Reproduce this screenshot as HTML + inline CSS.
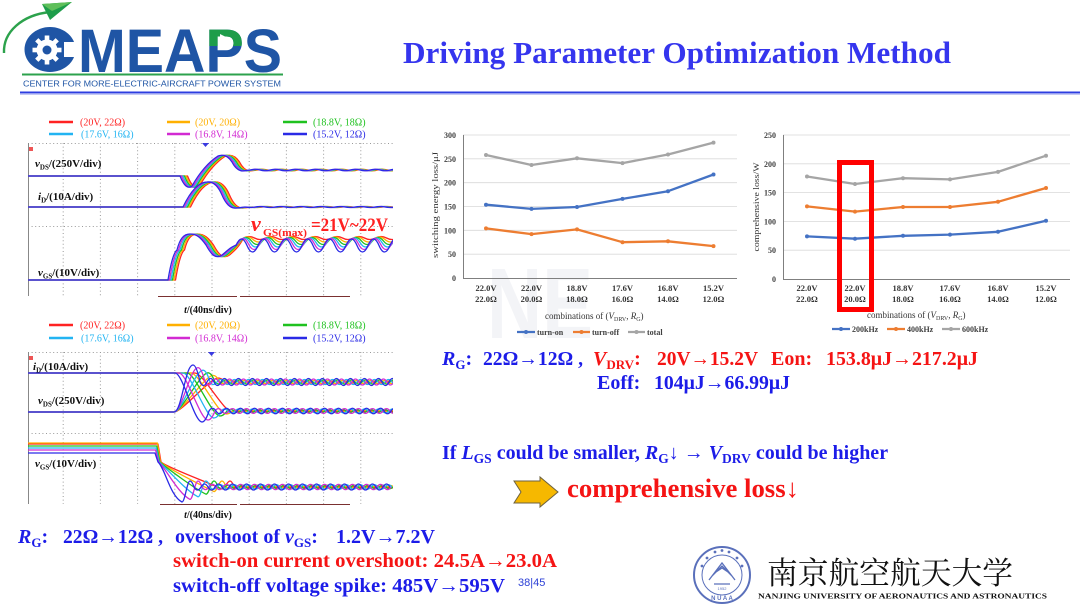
<!DOCTYPE html>
<html><head><meta charset="utf-8">
<style>
html,body{margin:0;padding:0;background:#fff;width:1080px;height:607px;overflow:hidden}
svg{display:block}
text{font-family:"Liberation Serif","Noto Serif CJK SC",serif}
.b{font-weight:bold}
</style></head>
<body>
<svg width="1080" height="607" viewBox="0 0 1080 607" xmlns="http://www.w3.org/2000/svg">
<defs>
<clipPath id="c1"><rect x="28" y="143" width="365" height="153"/></clipPath>
<clipPath id="c2"><rect x="28" y="352" width="365" height="152"/></clipPath>
<clipPath id="pc"><rect x="203" y="25" width="44" height="21"/></clipPath>
</defs>
<rect width="1080" height="607" fill="#fff"/>

<!-- ===== LOGO ===== -->
<path d="M4,53 C3,32 22,15 50,12" stroke="#2ca24c" stroke-width="2.4" fill="none"/>
<polygon points="42,4 72,2 50,20" fill="#1e9d4a"/>
<polygon points="42,4 72,2 52,11" fill="#5fbf5a"/>
<ellipse cx="50" cy="49.5" rx="25.5" ry="22.5" fill="#1f55a5"/>
<rect x="64" y="42" width="16" height="15" fill="#fff"/>
<g transform="translate(47,50)" fill="#fff">
<circle r="10.5"/>
<rect x="-2.3" y="-14.5" width="4.6" height="6"/>
<rect x="-2.3" y="-14.5" width="4.6" height="6" transform="rotate(45)"/>
<rect x="-2.3" y="-14.5" width="4.6" height="6" transform="rotate(90)"/>
<rect x="-2.3" y="-14.5" width="4.6" height="6" transform="rotate(135)"/>
<rect x="-2.3" y="-14.5" width="4.6" height="6" transform="rotate(180)"/>
<rect x="-2.3" y="-14.5" width="4.6" height="6" transform="rotate(225)"/>
<rect x="-2.3" y="-14.5" width="4.6" height="6" transform="rotate(270)"/>
<rect x="-2.3" y="-14.5" width="4.6" height="6" transform="rotate(315)"/>
<circle r="4.5" fill="#1f55a5"/>
</g>
<text x="78" y="72" font-weight="bold" font-size="61" textLength="204" lengthAdjust="spacingAndGlyphs" fill="#1f55a5" style="font-family:'Liberation Sans',sans-serif">MEAPS</text>
<text x="78" y="72" font-weight="bold" font-size="61" textLength="204" lengthAdjust="spacingAndGlyphs" fill="#1e9d4a" clip-path="url(#pc)" style="font-family:'Liberation Sans',sans-serif">MEAPS</text>
<polygon points="220,34 220,47 233,40.5" fill="#fff"/>
<line x1="22" y1="74.5" x2="283" y2="74.5" stroke="#2ca24c" stroke-width="2"/>
<text x="23" y="86.5" font-size="8.6" textLength="258" lengthAdjust="spacingAndGlyphs" fill="#1f55a5" style="font-family:'Liberation Sans',sans-serif">CENTER FOR  MORE-ELECTRIC-AIRCRAFT POWER SYSTEM</text>

<line x1="20" y1="92.5" x2="1080" y2="92.5" stroke="#2d3de0" stroke-width="2"/>
<line x1="20" y1="94.5" x2="1080" y2="94.5" stroke="#c5c9f3" stroke-width="1"/>

<text x="403" y="63" class="b" font-size="31" textLength="548" lengthAdjust="spacingAndGlyphs" fill="#3535ee">Driving Parameter Optimization Method</text>

<!-- ===== TOP SCOPE ===== -->
<g stroke-width="2.5">
<line x1="49" y1="122" x2="73" y2="122" stroke="#ff2222"/>
<line x1="167" y1="122" x2="190" y2="122" stroke="#ffb000"/>
<line x1="283" y1="122" x2="307" y2="122" stroke="#1fc21f"/>
<line x1="49" y1="134" x2="73" y2="134" stroke="#22b4f2"/>
<line x1="167" y1="134" x2="190" y2="134" stroke="#d22ad2"/>
<line x1="283" y1="134" x2="307" y2="134" stroke="#2a2ae6"/>
</g>
<g font-size="10">
<text x="80" y="125.5" fill="#ff2222">(20V, 22Ω)</text>
<text x="195" y="125.5" fill="#ffb000">(20V, 20Ω)</text>
<text x="313" y="125.5" fill="#1fc21f">(18.8V, 18Ω)</text>
<text x="81" y="137.5" fill="#22b4f2">(17.6V, 16Ω)</text>
<text x="195" y="137.5" fill="#d22ad2">(16.8V, 14Ω)</text>
<text x="313" y="137.5" fill="#2a2ae6">(15.2V, 12Ω)</text>
</g>
<g stroke="#9a9a9a" stroke-width="1" stroke-dasharray="1 2.6" fill="none">
<line x1="28" y1="143.5" x2="393" y2="143.5"/>
<line x1="28" y1="226.5" x2="393" y2="226.5"/>
<line x1="63.2" y1="143" x2="63.2" y2="296"/>
<line x1="100.4" y1="143" x2="100.4" y2="296"/>
<line x1="137.6" y1="143" x2="137.6" y2="296"/>
<line x1="174.8" y1="143" x2="174.8" y2="296"/>
<line x1="212" y1="143" x2="212" y2="296"/>
<line x1="249.2" y1="143" x2="249.2" y2="296"/>
<line x1="286.4" y1="143" x2="286.4" y2="296"/>
<line x1="323.6" y1="143" x2="323.6" y2="296"/>
<line x1="360.8" y1="143" x2="360.8" y2="296"/>
</g>
<line x1="28.5" y1="143" x2="28.5" y2="296" stroke="#888" stroke-width="1"/>
<rect x="29" y="147" width="4" height="4" fill="#e55"/>
<polygon points="202,143 209,143 205.5,147" fill="#3a3ae0"/>
<g clip-path="url(#c1)" fill="none" stroke-width="1.3" stroke-linejoin="round">
<g transform="translate(7.5,0)" stroke="#ff2222">
<path d="M0,176 L180,176 Q186,191 192,186 Q204,165 218,156 Q226,153 232,162 Q236,170 242,171 L250,170 q5,-1.5 10,0 t10,0 t10,0 t10,0 t10,0 t10,0 t10,0 t10,0 t10,0 t10,0 t10,0 t10,0 t10,0 t10,0 t10,0 t10,0 t10,0"/>
<path d="M0,207 L183,207 Q195,182 207,182 Q216,181 222,195 Q228,209 236,208 L245,207 q5,1 10,0 t10,0 t10,0 t10,0 t10,0 t10,0 t10,0 t10,0 t10,0 t10,0 t10,0 t10,0 t10,0 t10,0 t10,0 t10,0"/>
<path d="M0,280 L168,280 C171,262 174,252 177,250 C180,238 184,234 190,234 C197,234 201,238 206,245 C212,256 216,259 222,255 C228,250 232,246 236,238 q5.5,-3 11,0 t11,0 t11,0 t11,0 t11,0 t11,0 t11,0 t11,0 t11,0 t11,0 t11,0 t11,0 t11,0 t11,0 t11,0"/>
</g>
<g transform="translate(6,0)" stroke="#ffb000">
<path d="M0,176 L180,176 Q186,191 192,186 Q204,165 218,156 Q226,153 232,162 Q236,170 242,171 L250,170 q5,-1.5 10,0 t10,0 t10,0 t10,0 t10,0 t10,0 t10,0 t10,0 t10,0 t10,0 t10,0 t10,0 t10,0 t10,0 t10,0 t10,0 t10,0"/>
<path d="M0,207 L183,207 Q195,182 207,182 Q216,181 222,195 Q228,209 236,208 L245,207 q5,1 10,0 t10,0 t10,0 t10,0 t10,0 t10,0 t10,0 t10,0 t10,0 t10,0 t10,0 t10,0 t10,0 t10,0 t10,0 t10,0"/>
<path d="M0,280 L168,280 C171,262 174,252 177,250 C180,238 184,234 190,234 C197,234 201,238 206,245 C212,256 216,259 222,255 C228,250 232,246 236,239.5 q5.5,-5 11,0 t11,0 t11,0 t11,0 t11,0 t11,0 t11,0 t11,0 t11,0 t11,0 t11,0 t11,0 t11,0 t11,0 t11,0"/>
</g>
<g transform="translate(4.5,0)" stroke="#1fc21f">
<path d="M0,176 L180,176 Q186,191 192,186 Q204,165 218,156 Q226,153 232,162 Q236,170 242,171 L250,170 q5,-1.5 10,0 t10,0 t10,0 t10,0 t10,0 t10,0 t10,0 t10,0 t10,0 t10,0 t10,0 t10,0 t10,0 t10,0 t10,0 t10,0 t10,0"/>
<path d="M0,207 L183,207 Q195,182 207,182 Q216,181 222,195 Q228,209 236,208 L245,207 q5,1 10,0 t10,0 t10,0 t10,0 t10,0 t10,0 t10,0 t10,0 t10,0 t10,0 t10,0 t10,0 t10,0 t10,0 t10,0 t10,0"/>
<path d="M0,280 L168,280 C171,262 174,252 177,250 C180,238 184,234 190,234 C197,234 201,238 206,245 C212,256 216,259 222,255 C228,250 232,246 236,241 q5.5,-7 11,0 t11,0 t11,0 t11,0 t11,0 t11,0 t11,0 t11,0 t11,0 t11,0 t11,0 t11,0 t11,0 t11,0 t11,0"/>
</g>
<g transform="translate(3,0)" stroke="#22b4f2">
<path d="M0,176 L180,176 Q186,191 192,186 Q204,165 218,156 Q226,153 232,162 Q236,170 242,171 L250,170 q5,-1.5 10,0 t10,0 t10,0 t10,0 t10,0 t10,0 t10,0 t10,0 t10,0 t10,0 t10,0 t10,0 t10,0 t10,0 t10,0 t10,0 t10,0"/>
<path d="M0,207 L183,207 Q195,182 207,182 Q216,181 222,195 Q228,209 236,208 L245,207 q5,1 10,0 t10,0 t10,0 t10,0 t10,0 t10,0 t10,0 t10,0 t10,0 t10,0 t10,0 t10,0 t10,0 t10,0 t10,0 t10,0"/>
<path d="M0,280 L168,280 C171,262 174,252 177,250 C180,238 184,234 190,234 C197,234 201,238 206,245 C212,256 216,259 222,255 C228,250 232,246 236,242.5 q5.5,-9 11,0 t11,0 t11,0 t11,0 t11,0 t11,0 t11,0 t11,0 t11,0 t11,0 t11,0 t11,0 t11,0 t11,0 t11,0"/>
</g>
<g transform="translate(1.5,0)" stroke="#d22ad2">
<path d="M0,176 L180,176 Q186,191 192,186 Q204,165 218,156 Q226,153 232,162 Q236,170 242,171 L250,170 q5,-1.5 10,0 t10,0 t10,0 t10,0 t10,0 t10,0 t10,0 t10,0 t10,0 t10,0 t10,0 t10,0 t10,0 t10,0 t10,0 t10,0 t10,0"/>
<path d="M0,207 L183,207 Q195,182 207,182 Q216,181 222,195 Q228,209 236,208 L245,207 q5,1 10,0 t10,0 t10,0 t10,0 t10,0 t10,0 t10,0 t10,0 t10,0 t10,0 t10,0 t10,0 t10,0 t10,0 t10,0 t10,0"/>
<path d="M0,280 L168,280 C171,262 174,252 177,250 C180,238 184,234 190,234 C197,234 201,238 206,245 C212,256 216,259 222,255 C228,250 232,246 236,244 q5.5,-11 11,0 t11,0 t11,0 t11,0 t11,0 t11,0 t11,0 t11,0 t11,0 t11,0 t11,0 t11,0 t11,0 t11,0 t11,0"/>
</g>
<g stroke="#2a2ae6">
<path d="M0,176 L180,176 Q186,191 192,186 Q204,165 218,156 Q226,153 232,162 Q236,170 242,171 L250,170 q5,-1.5 10,0 t10,0 t10,0 t10,0 t10,0 t10,0 t10,0 t10,0 t10,0 t10,0 t10,0 t10,0 t10,0 t10,0 t10,0 t10,0 t10,0"/>
<path d="M0,207 L183,207 Q195,182 207,182 Q216,181 222,195 Q228,209 236,208 L245,207 q5,1 10,0 t10,0 t10,0 t10,0 t10,0 t10,0 t10,0 t10,0 t10,0 t10,0 t10,0 t10,0 t10,0 t10,0 t10,0 t10,0"/>
<path d="M0,280 L168,280 C171,262 174,252 177,250 C180,238 184,234 190,234 C197,234 201,238 206,245 C212,256 216,259 222,255 C228,250 232,246 236,245.5 q5.5,-13 11,0 t11,0 t11,0 t11,0 t11,0 t11,0 t11,0 t11,0 t11,0 t11,0 t11,0 t11,0 t11,0 t11,0 t11,0"/>
</g>
</g>
<g class="b" font-size="11" fill="#111">
<text x="35" y="167"><tspan font-style="italic">v</tspan><tspan font-size="7" dy="2.5">DS</tspan><tspan dy="-2.5">/(250V/div)</tspan></text>
<text x="38" y="200"><tspan font-style="italic">i</tspan><tspan font-size="7" dy="2.5">D</tspan><tspan dy="-2.5">/(10A/div)</tspan></text>
<text x="38" y="276"><tspan font-style="italic">v</tspan><tspan font-size="7" dy="2.5">GS</tspan><tspan dy="-2.5">/(10V/div)</tspan></text>
</g>
<g class="b" fill="#ff2020">
<text x="251" y="231" font-size="22" font-style="italic">v</text>
<text x="263" y="236" font-size="11" textLength="44" lengthAdjust="spacingAndGlyphs">GS(max)</text>
<text x="311" y="231" font-size="19" textLength="77" lengthAdjust="spacingAndGlyphs">=21V~22V</text>
</g>
<g stroke="#7a3030" stroke-width="1">
<line x1="158" y1="296.5" x2="237" y2="296.5"/>
<line x1="240" y1="296.5" x2="350" y2="296.5"/>
</g>
<text x="208" y="313" class="b" font-size="10" text-anchor="middle" fill="#111"><tspan font-style="italic">t</tspan>/(40ns/div)</text>

<!-- ===== BOTTOM SCOPE ===== -->
<g stroke-width="2.5">
<line x1="49" y1="325" x2="73" y2="325" stroke="#ff2222"/>
<line x1="167" y1="325" x2="190" y2="325" stroke="#ffb000"/>
<line x1="283" y1="325" x2="307" y2="325" stroke="#1fc21f"/>
<line x1="49" y1="338" x2="73" y2="338" stroke="#22b4f2"/>
<line x1="167" y1="338" x2="190" y2="338" stroke="#d22ad2"/>
<line x1="283" y1="338" x2="307" y2="338" stroke="#2a2ae6"/>
</g>
<g font-size="10">
<text x="80" y="328.5" fill="#ff2222">(20V, 22Ω)</text>
<text x="195" y="328.5" fill="#ffb000">(20V, 20Ω)</text>
<text x="313" y="328.5" fill="#1fc21f">(18.8V, 18Ω)</text>
<text x="81" y="341.5" fill="#22b4f2">(17.6V, 16Ω)</text>
<text x="195" y="341.5" fill="#d22ad2">(16.8V, 14Ω)</text>
<text x="313" y="341.5" fill="#2a2ae6">(15.2V, 12Ω)</text>
</g>
<g stroke="#9a9a9a" stroke-width="1" stroke-dasharray="1 2.6" fill="none">
<line x1="28" y1="352.5" x2="393" y2="352.5"/>
<line x1="28" y1="433.5" x2="393" y2="433.5"/>
<line x1="63.2" y1="352" x2="63.2" y2="504"/>
<line x1="100.4" y1="352" x2="100.4" y2="504"/>
<line x1="137.6" y1="352" x2="137.6" y2="504"/>
<line x1="174.8" y1="352" x2="174.8" y2="504"/>
<line x1="212" y1="352" x2="212" y2="504"/>
<line x1="249.2" y1="352" x2="249.2" y2="504"/>
<line x1="286.4" y1="352" x2="286.4" y2="504"/>
<line x1="323.6" y1="352" x2="323.6" y2="504"/>
<line x1="360.8" y1="352" x2="360.8" y2="504"/>
</g>
<line x1="28.5" y1="352" x2="28.5" y2="504" stroke="#888" stroke-width="1"/>
<rect x="29" y="356" width="4" height="4" fill="#e55"/>
<polygon points="208,352 215,352 211.5,356" fill="#3a3ae0"/>
<g clip-path="url(#c2)" fill="none" stroke-width="1.3" stroke-linejoin="round">
<g stroke="#ff2222">
<path d="M0,412 L174,412 C182,412 210,378 218,378 Q221.5,378 225,382 q3.5,2 7,0 t7,0 t7,0 t7,0 t7,0 t7,0 t7,0 t7,0 t7,0 t7,0 t7,0 t7,0 t7,0 t7,0 t7,0 t7,0 t7,0 t7,0 t7,0 t7,0 t7,0 t7,0 t7,0 t7,0 t7,0 t7,0 t7,0 t7,0 t7,0 t7,0"/>
<path d="M0,373 L195,373 C203,373 224,412 232,412 Q235.5,412 239,411 q3.5,-1.5 7,0 t7,0 t7,0 t7,0 t7,0 t7,0 t7,0 t7,0 t7,0 t7,0 t7,0 t7,0 t7,0 t7,0 t7,0 t7,0 t7,0 t7,0 t7,0 t7,0 t7,0 t7,0 t7,0 t7,0 t7,0"/>
<path d="M0,444 L158,444 L161,462 C168,468 210,483 222,489 C225,489 227,481 230,481 Q232,481 234,487 q3.5,2 7,0 t7,0 t7,0 t7,0 t7,0 t7,0 t7,0 t7,0 t7,0 t7,0 t7,0 t7,0 t7,0 t7,0 t7,0 t7,0 t7,0 t7,0 t7,0 t7,0 t7,0 t7,0 t7,0 t7,0"/>
</g>
<g stroke="#ffb000">
<path d="M0,412 L174,412 C182,412 205,375.4 213,375.4 Q216.5,375.4 220,382 q3.5,3 7,0 t7,0 t7,0 t7,0 t7,0 t7,0 t7,0 t7,0 t7,0 t7,0 t7,0 t7,0 t7,0 t7,0 t7,0 t7,0 t7,0 t7,0 t7,0 t7,0 t7,0 t7,0 t7,0 t7,0 t7,0 t7,0 t7,0 t7,0"/>
<path d="M0,373 L191,373 C199,373 218,414 226,414 Q229.5,414 233,411 q3.5,-2.3 7,0 t7,0 t7,0 t7,0 t7,0 t7,0 t7,0 t7,0 t7,0 t7,0 t7,0 t7,0 t7,0 t7,0 t7,0 t7,0 t7,0 t7,0 t7,0 t7,0 t7,0 t7,0 t7,0 t7,0 t7,0"/>
<path d="M0,443 L157.4,443 L160.4,462 C167.4,468 202,485.6 214,491.6 C217,491.6 219,481 222,481 Q224,481 226,487 q3.5,2.8 7,0 t7,0 t7,0 t7,0 t7,0 t7,0 t7,0 t7,0 t7,0 t7,0 t7,0 t7,0 t7,0 t7,0 t7,0 t7,0 t7,0 t7,0 t7,0 t7,0 t7,0 t7,0 t7,0 t7,0 t7,0"/>
</g>
<g stroke="#1fc21f">
<path d="M0,412 L174,412 C182,412 200,372.8 208,372.8 Q211.5,372.8 215,382 q3.5,4 7,0 t7,0 t7,0 t7,0 t7,0 t7,0 t7,0 t7,0 t7,0 t7,0 t7,0 t7,0 t7,0 t7,0 t7,0 t7,0 t7,0 t7,0 t7,0 t7,0 t7,0 t7,0 t7,0 t7,0 t7,0 t7,0 t7,0 t7,0"/>
<path d="M0,373 L187,373 C195,373 212,416 220,416 Q223.5,416 227,411 q3.5,-3.1 7,0 t7,0 t7,0 t7,0 t7,0 t7,0 t7,0 t7,0 t7,0 t7,0 t7,0 t7,0 t7,0 t7,0 t7,0 t7,0 t7,0 t7,0 t7,0 t7,0 t7,0 t7,0 t7,0 t7,0 t7,0"/>
<path d="M0,446 L156.8,446 L159.8,462 C166.8,468 194,488.2 206,494.2 C209,494.2 211,481 214,481 Q216,481 218,487 q3.5,3.6 7,0 t7,0 t7,0 t7,0 t7,0 t7,0 t7,0 t7,0 t7,0 t7,0 t7,0 t7,0 t7,0 t7,0 t7,0 t7,0 t7,0 t7,0 t7,0 t7,0 t7,0 t7,0 t7,0 t7,0 t7,0"/>
</g>
<g stroke="#22b4f2">
<path d="M0,412 L174,412 C182,412 195,370.2 203,370.2 Q206.5,370.2 210,382 q3.5,5 7,0 t7,0 t7,0 t7,0 t7,0 t7,0 t7,0 t7,0 t7,0 t7,0 t7,0 t7,0 t7,0 t7,0 t7,0 t7,0 t7,0 t7,0 t7,0 t7,0 t7,0 t7,0 t7,0 t7,0 t7,0 t7,0 t7,0 t7,0"/>
<path d="M0,373 L183,373 C191,373 206,418 214,418 Q217.5,418 221,411 q3.5,-3.9 7,0 t7,0 t7,0 t7,0 t7,0 t7,0 t7,0 t7,0 t7,0 t7,0 t7,0 t7,0 t7,0 t7,0 t7,0 t7,0 t7,0 t7,0 t7,0 t7,0 t7,0 t7,0 t7,0 t7,0 t7,0 t7,0"/>
<path d="M0,448 L156.2,448 L159.2,462 C166.2,468 186,490.8 198,496.8 C201,496.8 203,481 206,481 Q208,481 210,487 q3.5,4.4 7,0 t7,0 t7,0 t7,0 t7,0 t7,0 t7,0 t7,0 t7,0 t7,0 t7,0 t7,0 t7,0 t7,0 t7,0 t7,0 t7,0 t7,0 t7,0 t7,0 t7,0 t7,0 t7,0 t7,0 t7,0 t7,0"/>
</g>
<g stroke="#d22ad2">
<path d="M0,412 L174,412 C182,412 190,367.6 198,367.6 Q201.5,367.6 205,382 q3.5,6 7,0 t7,0 t7,0 t7,0 t7,0 t7,0 t7,0 t7,0 t7,0 t7,0 t7,0 t7,0 t7,0 t7,0 t7,0 t7,0 t7,0 t7,0 t7,0 t7,0 t7,0 t7,0 t7,0 t7,0 t7,0 t7,0 t7,0 t7,0"/>
<path d="M0,373 L179,373 C187,373 200,420 208,420 Q211.5,420 215,411 q3.5,-4.7 7,0 t7,0 t7,0 t7,0 t7,0 t7,0 t7,0 t7,0 t7,0 t7,0 t7,0 t7,0 t7,0 t7,0 t7,0 t7,0 t7,0 t7,0 t7,0 t7,0 t7,0 t7,0 t7,0 t7,0 t7,0 t7,0"/>
<path d="M0,450 L155.6,450 L158.6,462 C165.6,468 178,493.4 190,499.4 C193,499.4 195,481 198,481 Q200,481 202,487 q3.5,5.2 7,0 t7,0 t7,0 t7,0 t7,0 t7,0 t7,0 t7,0 t7,0 t7,0 t7,0 t7,0 t7,0 t7,0 t7,0 t7,0 t7,0 t7,0 t7,0 t7,0 t7,0 t7,0 t7,0 t7,0 t7,0 t7,0 t7,0"/>
</g>
<g stroke="#2a2ae6">
<path d="M0,412 L174,412 C182,412 185,365 193,365 Q196.5,365 200,382 q3.5,7 7,0 t7,0 t7,0 t7,0 t7,0 t7,0 t7,0 t7,0 t7,0 t7,0 t7,0 t7,0 t7,0 t7,0 t7,0 t7,0 t7,0 t7,0 t7,0 t7,0 t7,0 t7,0 t7,0 t7,0 t7,0 t7,0 t7,0 t7,0"/>
<path d="M0,373 L175,373 C183,373 194,422 202,422 Q205.5,422 209,411 q3.5,-5.5 7,0 t7,0 t7,0 t7,0 t7,0 t7,0 t7,0 t7,0 t7,0 t7,0 t7,0 t7,0 t7,0 t7,0 t7,0 t7,0 t7,0 t7,0 t7,0 t7,0 t7,0 t7,0 t7,0 t7,0 t7,0 t7,0 t7,0"/>
<path d="M0,453 L155,453 L158,462 C165,468 170,496 182,502 C185,502 187,481 190,481 Q192,481 194,487 q3.5,6 7,0 t7,0 t7,0 t7,0 t7,0 t7,0 t7,0 t7,0 t7,0 t7,0 t7,0 t7,0 t7,0 t7,0 t7,0 t7,0 t7,0 t7,0 t7,0 t7,0 t7,0 t7,0 t7,0 t7,0 t7,0 t7,0 t7,0 t7,0"/>
</g>
</g>
<g class="b" font-size="11" fill="#111">
<text x="33" y="370"><tspan font-style="italic">i</tspan><tspan font-size="7" dy="2.5">D</tspan><tspan dy="-2.5">/(10A/div)</tspan></text>
<text x="38" y="404"><tspan font-style="italic">v</tspan><tspan font-size="7" dy="2.5">DS</tspan><tspan dy="-2.5">/(250V/div)</tspan></text>
<text x="35" y="467"><tspan font-style="italic">v</tspan><tspan font-size="7" dy="2.5">GS</tspan><tspan dy="-2.5">/(10V/div)</tspan></text>
</g>
<g stroke="#7a3030" stroke-width="1">
<line x1="160" y1="504.5" x2="237" y2="504.5"/>
<line x1="240" y1="504.5" x2="350" y2="504.5"/>
</g>
<text x="208" y="518" class="b" font-size="10" text-anchor="middle" fill="#111"><tspan font-style="italic">t</tspan>/(40ns/div)</text>

<!-- ===== CHART 1 ===== -->
<text x="487" y="338" font-size="100" font-weight="bold" fill="#f3f4f7" textLength="106" lengthAdjust="spacingAndGlyphs" style="font-family:'Liberation Sans',sans-serif">NE</text>
<g stroke="#d9d9d9" stroke-width="0.8">
<line x1="463" y1="254.2" x2="737" y2="254.2"/>
<line x1="463" y1="230.3" x2="737" y2="230.3"/>
<line x1="463" y1="206.5" x2="737" y2="206.5"/>
<line x1="463" y1="182.7" x2="737" y2="182.7"/>
<line x1="463" y1="158.8" x2="737" y2="158.8"/>
<line x1="463" y1="135" x2="737" y2="135"/>
</g>
<line x1="463.5" y1="135" x2="463.5" y2="278" stroke="#7f7f7f" stroke-width="1"/>
<line x1="463" y1="278.5" x2="737" y2="278.5" stroke="#7f7f7f" stroke-width="1"/>
<g class="b" font-size="8" fill="#404040" text-anchor="end">
<text x="456" y="281">0</text>
<text x="456" y="257.2">50</text>
<text x="456" y="233.3">100</text>
<text x="456" y="209.5">150</text>
<text x="456" y="185.7">200</text>
<text x="456" y="161.8">250</text>
<text x="456" y="138">300</text>
</g>
<text transform="translate(438,205) rotate(-90)" font-size="8.5" fill="#333" text-anchor="middle" textLength="106" lengthAdjust="spacingAndGlyphs">switching energy loss/μJ</text>
<g class="b" font-size="8.5" fill="#333" text-anchor="middle">
<text x="486" y="291">22.0V</text><text x="486" y="302">22.0Ω</text>
<text x="531.5" y="291">22.0V</text><text x="531.5" y="302">20.0Ω</text>
<text x="577" y="291">18.8V</text><text x="577" y="302">18.0Ω</text>
<text x="622.5" y="291">17.6V</text><text x="622.5" y="302">16.0Ω</text>
<text x="668" y="291">16.8V</text><text x="668" y="302">14.0Ω</text>
<text x="713.5" y="291">15.2V</text><text x="713.5" y="302">12.0Ω</text>
</g>
<text x="545" y="319" font-size="9" fill="#333">combinations of (<tspan font-style="italic">V</tspan><tspan font-size="6" dy="2">DRV</tspan><tspan dy="-2">, </tspan><tspan font-style="italic">R</tspan><tspan font-size="6" dy="2">G</tspan><tspan dy="-2">)</tspan></text>
<g fill="none" stroke-width="2.3" stroke-linejoin="round">
<polyline points="486,155 531.5,165 577,158.3 622.5,163.1 668,154.5 713.5,142.6" stroke="#a5a5a5"/>
<polyline points="486,204.7 531.5,208.9 577,207 622.5,198.9 668,191.2 713.5,174.5" stroke="#4472c4"/>
<polyline points="486,228.4 531.5,234.1 577,229.4 622.5,242.2 668,241.3 713.5,246.1" stroke="#ed7d31"/>
</g>
<g fill="#a5a5a5"><circle cx="486" cy="155" r="2"/><circle cx="531.5" cy="165" r="2"/><circle cx="577" cy="158.3" r="2"/><circle cx="622.5" cy="163.1" r="2"/><circle cx="668" cy="154.5" r="2"/><circle cx="713.5" cy="142.6" r="2"/></g>
<g fill="#4472c4"><circle cx="486" cy="204.7" r="2"/><circle cx="531.5" cy="208.9" r="2"/><circle cx="577" cy="207" r="2"/><circle cx="622.5" cy="198.9" r="2"/><circle cx="668" cy="191.2" r="2"/><circle cx="713.5" cy="174.5" r="2"/></g>
<g fill="#ed7d31"><circle cx="486" cy="228.4" r="2"/><circle cx="531.5" cy="234.1" r="2"/><circle cx="577" cy="229.4" r="2"/><circle cx="622.5" cy="242.2" r="2"/><circle cx="668" cy="241.3" r="2"/><circle cx="713.5" cy="246.1" r="2"/></g>
<g stroke-width="2.3">
<line x1="517" y1="332" x2="535" y2="332" stroke="#4472c4"/>
<line x1="573" y1="332" x2="590" y2="332" stroke="#ed7d31"/>
<line x1="628" y1="332" x2="645" y2="332" stroke="#a5a5a5"/>
</g>
<circle cx="526" cy="332" r="2" fill="#4472c4"/><circle cx="581.5" cy="332" r="2" fill="#ed7d31"/><circle cx="636.5" cy="332" r="2" fill="#a5a5a5"/>
<g font-size="8" fill="#404040" class="b">
<text x="537" y="335">turn-on</text>
<text x="592" y="335">turn-off</text>
<text x="647" y="335">total</text>
</g>

<!-- ===== CHART 2 ===== -->
<g stroke="#d9d9d9" stroke-width="0.8">
<line x1="783" y1="250.2" x2="1070" y2="250.2"/>
<line x1="783" y1="221.4" x2="1070" y2="221.4"/>
<line x1="783" y1="192.6" x2="1070" y2="192.6"/>
<line x1="783" y1="163.8" x2="1070" y2="163.8"/>
<line x1="783" y1="135" x2="1070" y2="135"/>
</g>
<line x1="783.5" y1="135" x2="783.5" y2="279" stroke="#7f7f7f" stroke-width="1"/>
<line x1="783" y1="279.5" x2="1070" y2="279.5" stroke="#7f7f7f" stroke-width="1"/>
<g class="b" font-size="8" fill="#404040" text-anchor="end">
<text x="776" y="282">0</text>
<text x="776" y="253.2">50</text>
<text x="776" y="224.4">100</text>
<text x="776" y="195.6">150</text>
<text x="776" y="166.8">200</text>
<text x="776" y="138">250</text>
</g>
<text transform="translate(759,207) rotate(-90)" font-size="8.5" fill="#333" text-anchor="middle" textLength="89" lengthAdjust="spacingAndGlyphs">comprehensive loss/W</text>
<g class="b" font-size="8.5" fill="#333" text-anchor="middle">
<text x="807" y="291">22.0V</text><text x="807" y="302">22.0Ω</text>
<text x="855" y="291">22.0V</text><text x="855" y="302">20.0Ω</text>
<text x="903" y="291">18.8V</text><text x="903" y="302">18.0Ω</text>
<text x="950" y="291">17.6V</text><text x="950" y="302">16.0Ω</text>
<text x="998" y="291">16.8V</text><text x="998" y="302">14.0Ω</text>
<text x="1046" y="291">15.2V</text><text x="1046" y="302">12.0Ω</text>
</g>
<text x="867" y="318" font-size="9" fill="#333">combinations of (<tspan font-style="italic">V</tspan><tspan font-size="6" dy="2">DRV</tspan><tspan dy="-2">, </tspan><tspan font-style="italic">R</tspan><tspan font-size="6" dy="2">G</tspan><tspan dy="-2">)</tspan></text>
<g fill="none" stroke-width="2.3" stroke-linejoin="round">
<polyline points="807,176.5 855,184 903,178.2 950,179.4 998,171.9 1046,155.7" stroke="#a5a5a5"/>
<polyline points="807,206.4 855,211.6 903,207 950,207 998,201.8 1046,188" stroke="#ed7d31"/>
<polyline points="807,236.4 855,238.7 903,235.8 950,234.6 998,231.8 1046,220.8" stroke="#4472c4"/>
</g>
<g fill="#a5a5a5"><circle cx="807" cy="176.5" r="2"/><circle cx="855" cy="184" r="2"/><circle cx="903" cy="178.2" r="2"/><circle cx="950" cy="179.4" r="2"/><circle cx="998" cy="171.9" r="2"/><circle cx="1046" cy="155.7" r="2"/></g>
<g fill="#ed7d31"><circle cx="807" cy="206.4" r="2"/><circle cx="855" cy="211.6" r="2"/><circle cx="903" cy="207" r="2"/><circle cx="950" cy="207" r="2"/><circle cx="998" cy="201.8" r="2"/><circle cx="1046" cy="188" r="2"/></g>
<g fill="#4472c4"><circle cx="807" cy="236.4" r="2"/><circle cx="855" cy="238.7" r="2"/><circle cx="903" cy="235.8" r="2"/><circle cx="950" cy="234.6" r="2"/><circle cx="998" cy="231.8" r="2"/><circle cx="1046" cy="220.8" r="2"/></g>
<rect x="839.5" y="162.5" width="32" height="147" fill="none" stroke="#ff0000" stroke-width="5"/>
<g stroke-width="2.3">
<line x1="832" y1="329" x2="850" y2="329" stroke="#4472c4"/>
<line x1="887" y1="329" x2="905" y2="329" stroke="#ed7d31"/>
<line x1="942" y1="329" x2="960" y2="329" stroke="#a5a5a5"/>
</g>
<circle cx="841" cy="329" r="2" fill="#4472c4"/><circle cx="896" cy="329" r="2" fill="#ed7d31"/><circle cx="951" cy="329" r="2" fill="#a5a5a5"/>
<g font-size="8" fill="#404040" class="b">
<text x="852" y="332">200kHz</text>
<text x="907" y="332">400kHz</text>
<text x="962" y="332">600kHz</text>
</g>

<!-- ===== RIGHT TEXT ===== -->
<g class="b" font-size="20">
<text x="442" y="365" fill="#1c1ce8"><tspan font-style="italic">R</tspan><tspan font-size="13" dy="4">G</tspan><tspan dy="-4">:</tspan></text>
<text x="483" y="365" fill="#1c1ce8" textLength="100" lengthAdjust="spacingAndGlyphs">22Ω→12Ω ,</text>
<text x="593" y="365" fill="#f51414"><tspan font-style="italic">V</tspan><tspan font-size="13" dy="4">DRV</tspan><tspan dy="-4">:</tspan></text>
<text x="657" y="365" fill="#f51414" textLength="101" lengthAdjust="spacingAndGlyphs">20V→15.2V</text>
<text x="771" y="365" fill="#f51414">Eon:</text>
<text x="826" y="365" fill="#f51414" textLength="152" lengthAdjust="spacingAndGlyphs">153.8μJ→217.2μJ</text>
<text x="597" y="389" fill="#1c1ce8">Eoff:</text>
<text x="654" y="389" fill="#1c1ce8" textLength="136" lengthAdjust="spacingAndGlyphs">104μJ→66.99μJ</text>
</g>
<text x="442" y="459" class="b" font-size="20" fill="#1c1ce8">If <tspan font-style="italic">L</tspan><tspan font-size="13.5" dy="4">GS</tspan><tspan dy="-4"> could be smaller, </tspan><tspan font-style="italic">R</tspan><tspan font-size="13.5" dy="4">G</tspan><tspan dy="-4">↓ → </tspan><tspan font-style="italic">V</tspan><tspan font-size="13.5" dy="4">DRV</tspan><tspan dy="-4"> could be higher</tspan></text>
<polygon points="514,481 540,481 540,477 558,492 540,507 540,503 514,503 521,492" fill="#f6b800" stroke="#6d6240" stroke-width="1"/>
<text x="567" y="497" class="b" font-size="26" fill="#f51414" textLength="232" lengthAdjust="spacingAndGlyphs">comprehensive loss↓</text>

<!-- ===== BOTTOM-LEFT TEXT ===== -->
<g class="b" font-size="20">
<text x="18" y="543" fill="#1c1ce8"><tspan font-style="italic">R</tspan><tspan font-size="13" dy="4">G</tspan><tspan dy="-4">:</tspan></text>
<text x="63" y="543" fill="#1c1ce8" textLength="100" lengthAdjust="spacingAndGlyphs">22Ω→12Ω ,</text>
<text x="175" y="543" fill="#1c1ce8">overshoot of <tspan font-style="italic">v</tspan><tspan font-size="13" dy="4">GS</tspan><tspan dy="-4">:</tspan></text>
<text x="336" y="543" fill="#1c1ce8" textLength="99" lengthAdjust="spacingAndGlyphs">1.2V→7.2V</text>
<text x="173" y="567" fill="#f51414" textLength="384" lengthAdjust="spacingAndGlyphs">switch-on current overshoot:  24.5A→23.0A</text>
<text x="173" y="592" fill="#1c1ce8" textLength="332" lengthAdjust="spacingAndGlyphs">switch-off voltage spike:  485V→595V</text>
</g>
<text x="518" y="586" font-size="11" fill="#2b3fd6" style="font-family:'Liberation Sans',sans-serif">38|45</text>

<!-- ===== NUAA ===== -->
<g fill="none" stroke="#5a70bb">
<circle cx="722" cy="575" r="28" stroke-width="2"/>
<circle cx="722" cy="575" r="20" stroke-width="1"/>
<path d="M709,580 L722,563 L735,580 M712,576 L722,566 L732,576 M714,584 L730,584 M716,572 L722,568 L728,572" stroke-width="1.3"/>
</g>
<g fill="#5a70bb">
<circle cx="702" cy="566" r="1.4"/><circle cx="707" cy="558" r="1.4"/><circle cx="715" cy="552" r="1.4"/><circle cx="722" cy="550.5" r="1.4"/><circle cx="729" cy="552" r="1.4"/><circle cx="737" cy="558" r="1.4"/><circle cx="742" cy="566" r="1.4"/>
</g>
<text x="722" y="600" font-size="6" text-anchor="middle" fill="#5a70bb" class="b" style="font-family:'Liberation Sans',sans-serif">N U A A</text>
<text x="722" y="590" font-size="4" text-anchor="middle" fill="#5a70bb" style="font-family:'Liberation Sans',sans-serif">1952</text>
<text x="767" y="584" font-size="31" fill="#111" textLength="246" lengthAdjust="spacingAndGlyphs" style="font-family:'Noto Serif CJK SC','Noto Sans CJK SC',serif">南京航空航天大学</text>
<text x="758" y="598.5" font-size="7.6" class="b" fill="#111" textLength="289" lengthAdjust="spacingAndGlyphs">NANJING UNIVERSITY OF AERONAUTICS AND ASTRONAUTICS</text>
</svg>
</body></html>
